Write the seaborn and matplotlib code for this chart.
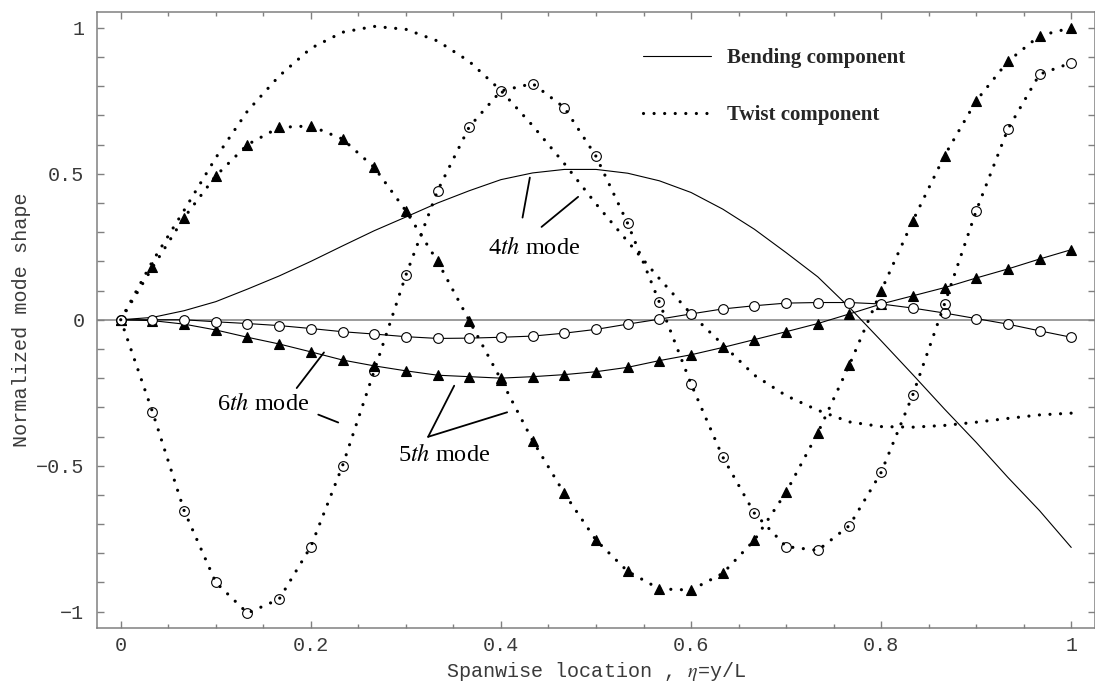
import numpy as np
import pandas as pd
import matplotlib
matplotlib.use("Agg")
import matplotlib.pyplot as plt
from matplotlib.ticker import MultipleLocator, FixedLocator, FuncFormatter
import seaborn as sns

# ---------------- data ----------------
eta = [i / 30 for i in range(31)]

bend4 = [0, 0.008, 0.031, 0.062, 0.105, 0.150, 0.200, 0.253, 0.305, 0.352, 0.400,
         0.442, 0.480, 0.503, 0.515, 0.515, 0.502, 0.476, 0.436, 0.379, 0.310,
         0.230, 0.147, 0.042, -0.072, -0.188, -0.306, -0.420, -0.540, -0.654, -0.780]
twist4 = [0, 0.200, 0.375, 0.555, 0.715, 0.835, 0.930, 0.985, 1.005, 0.995, 0.955,
          0.885, 0.785, 0.665, 0.535, 0.397, 0.268, 0.141, 0.020, -0.085, -0.190,
          -0.260, -0.310, -0.350, -0.366, -0.368, -0.362, -0.351, -0.338, -0.326, -0.320]
bend5 = [0, -0.003, -0.015, -0.035, -0.060, -0.083, -0.110, -0.138, -0.158, -0.175, -0.190,
         -0.195, -0.200, -0.195, -0.188, -0.178, -0.163, -0.140, -0.120, -0.095, -0.068,
         -0.041, -0.013, 0.020, 0.054, 0.082, 0.110, 0.143, 0.174, 0.208, 0.240]
twist5 = [0, 0.179, 0.350, 0.493, 0.600, 0.659, 0.664, 0.619, 0.522, 0.373, 0.200,
          -0.003, -0.205, -0.414, -0.595, -0.755, -0.862, -0.922, -0.926, -0.869, -0.755,
          -0.591, -0.388, -0.154, 0.099, 0.339, 0.562, 0.750, 0.885, 0.973, 1.000]
bend6 = [0, 0.000, 0.000, -0.007, -0.013, -0.020, -0.030, -0.041, -0.049, -0.058, -0.064,
         -0.063, -0.060, -0.056, -0.046, -0.033, -0.015, 0.002, 0.020, 0.037, 0.048,
         0.057, 0.059, 0.059, 0.054, 0.040, 0.023, 0.004, -0.015, -0.038, -0.060]
twist6 = [0, -0.315, -0.654, -0.900, -1.005, -0.957, -0.777, -0.500, -0.175, 0.153, 0.442,
          0.661, 0.784, 0.809, 0.727, 0.560, 0.330, 0.060, -0.220, -0.470, -0.663,
          -0.777, -0.790, -0.705, -0.523, -0.257, 0.054, 0.373, 0.653, 0.841, 0.880]

legend_labels = ["Bending component", "Twist component"]
x_ticks = [0, 0.2, 0.4, 0.6, 0.8, 1.0]
y_ticks = [-1, -0.5, 0, 0.5, 1]

# ---------------- style ----------------
sns.set_theme(style="white")
plt.rcParams["font.family"] = ["Liberation Mono", "DejaVu Sans"]
plt.rcParams["mathtext.fontset"] = "stix"
plt.rcParams["axes.unicode_minus"] = True

W, H = 1095, 686
fig = plt.figure(figsize=(W / 100, H / 100), dpi=100)
ax = fig.add_axes([97 / W, 1 - 628 / H, 998 / W, 616.5 / H])

df = pd.DataFrame({"eta": eta, "bend4": bend4, "twist4": twist4, "bend5": bend5,
                   "twist5": twist5, "bend6": bend6, "twist6": twist6})

DOT = (0, (0.01, 3.3))
LW_DOT = 2.3
LW_SOLID = 0.8


def draw(col, ls, lw, marker=None, mfc="black", ms=7, z=2):
    kws = {}
    if marker is not None:
        kws = dict(marker=marker, markersize=ms, markerfacecolor=mfc,
                   markeredgecolor="black", markeredgewidth=0.8)
    sns.lineplot(data=df, x="eta", y=col, ax=ax, color="black", legend=False,
                 estimator=None, sort=False, **kws)
    line = ax.lines[-1]
    line.set_linestyle(ls)
    line.set_linewidth(lw)
    line.set_dash_capstyle("round")
    line.set_solid_capstyle("round")
    line.set_zorder(z)
    return line


ax.axhline(0, color="#808080", lw=1.1, zorder=1)

l_b4 = draw("bend4", "-", LW_SOLID)
l_t4 = draw("twist4", DOT, LW_DOT)
draw("bend5", "-", LW_SOLID, marker="^", mfc="black", ms=7, z=3)
draw("twist5", DOT, LW_DOT, marker="^", mfc="black", ms=7, z=3)
draw("bend6", "-", LW_SOLID, marker="o", mfc="white", ms=7, z=3)
draw("twist6", DOT, LW_DOT, marker="o", mfc="none", ms=7, z=3)

# ---------------- axes ----------------
ax.set_xlim(-0.025, 1.025)
ax.set_ylim(-1.056, 1.056)

ax.xaxis.set_major_locator(FixedLocator(x_ticks))
ax.xaxis.set_minor_locator(MultipleLocator(0.05))
ax.yaxis.set_major_locator(FixedLocator(y_ticks))
ax.yaxis.set_minor_locator(MultipleLocator(0.1))


def fmt(v, pos):
    s = f"{v:g}"
    return s.replace("-", "\u2212")


ax.xaxis.set_major_formatter(FuncFormatter(fmt))
ax.yaxis.set_major_formatter(FuncFormatter(fmt))

tick_color = "#3a3a3a"
ax.tick_params(axis="x", which="major", direction="in", length=5, width=1.0,
               color="#808080", top=True, bottom=True, pad=6, labelsize=14.5,
               labelcolor=tick_color)
ax.tick_params(axis="x", which="minor", direction="in", length=3.2, width=1.0,
               color="#808080", top=True, bottom=True)
ax.tick_params(axis="y", which="major", direction="in", length=5, width=1.0,
               color="#808080", left=True, right=True, pad=9, labelsize=14.5,
               labelcolor=tick_color)
ax.tick_params(axis="y", which="minor", direction="in", length=5, width=1.0,
               color="#808080", left=True, right=True)

for sp in ax.spines.values():
    sp.set_color("#808080")
    sp.set_linewidth(1.1)
    sp.set_visible(True)

ax.set_xlabel(r"Spanwise location , $\eta$=y/L", fontsize=14.5, color=tick_color)
ax.set_ylabel("Normalized mode shape", fontsize=14.5, color=tick_color)
ax.xaxis.set_label_coords(0.5, -0.0525)
ax.yaxis.set_label_coords(-0.066, 0.5)

# ---------------- legend ----------------
leg = ax.legend(handles=[l_b4, l_t4], labels=legend_labels, loc="upper left",
                bbox_to_anchor=(0.547, 0.940), frameon=False,
                prop=dict(family="Liberation Serif", weight="bold", size=15),
                handlelength=3.27, handletextpad=0.77, labelspacing=1.75,
                borderpad=0, borderaxespad=0)

# ---------------- annotations ----------------
ann = dict(fontsize=17.5, family="Liberation Serif", ha="center", va="center",
           color="black")
ax.text(0.4346, 0.2466, r"4$\mathit{th}$ mode", **ann)
ax.text(0.150, -0.289, r"6$\mathit{th}$ mode", **ann)
ax.text(0.340, -0.462, r"5$\mathit{th}$ mode", **ann)

leaders = [
    ((0.4304, 0.487), (0.4227, 0.350)),
    ((0.4812, 0.421), (0.4427, 0.318)),
    ((0.2138, -0.112), (0.1851, -0.234)),
    ((0.2078, -0.325), (0.2288, -0.352)),
    ((0.3508, -0.226), (0.3234, -0.401)),
    ((0.3234, -0.401), (0.4065, -0.317)),
]
for a, b in leaders:
    ax.annotate("", xy=b, xytext=a,
                arrowprops=dict(arrowstyle="-", lw=1.3, color="black",
                                shrinkA=0, shrinkB=0))

fig.savefig("out.png", dpi=100)
